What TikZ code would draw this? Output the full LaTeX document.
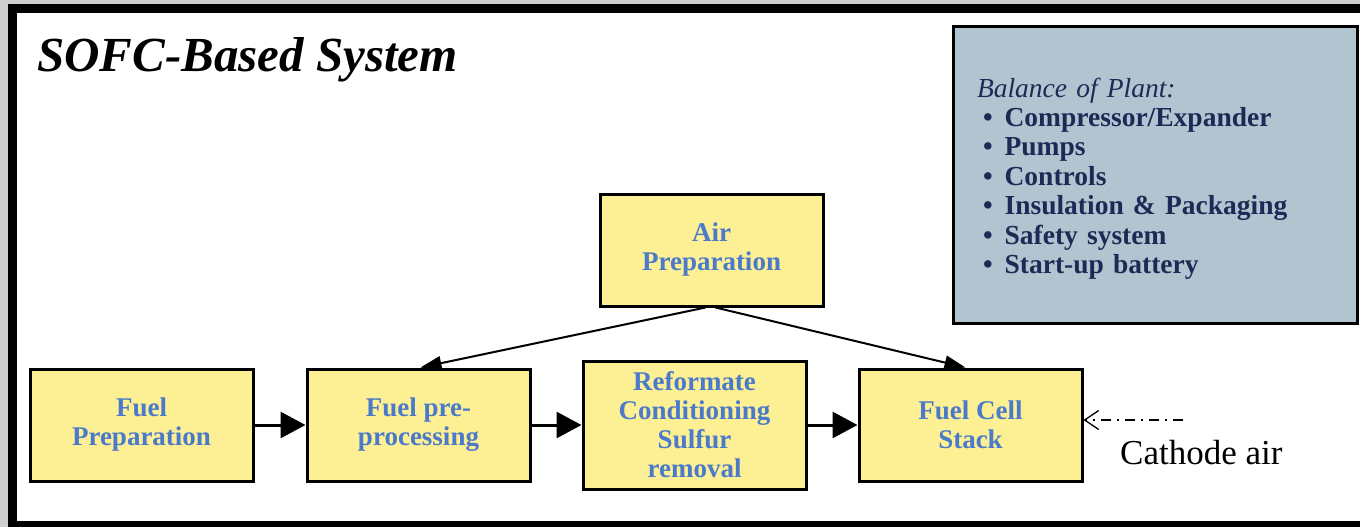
\documentclass[tikz,border=0pt]{standalone}
\usepackage{fontspec}
\setmainfont{Liberation Serif}
\usepackage{xcolor}
\usetikzlibrary{arrows.meta,positioning}
\definecolor{boxfill}{HTML}{FCEF94}
\definecolor{boxtext}{HTML}{4A7AC9}
\definecolor{bopfill}{HTML}{B3C4D1}
\definecolor{boptext}{HTML}{1C2B56}
\definecolor{screen}{HTML}{CFCFCF}

\begin{document}
\begin{tikzpicture}[x=1pt,y=-1pt,
    stagebox/.style={draw=black,line width=3pt,fill=boxfill,minimum width=223pt,
      minimum height=112pt,align=center,text=boxtext,
      font=\fontsize{27}{29}\selectfont\bfseries},
    flowarrow/.style={line width=3pt,-{Triangle[length=25pt,width=26pt]}},
    airarrow/.style={line width=2pt,-{Triangle[length=21pt,width=14pt]}}]
  \useasboundingbox (0,0) rectangle (1360,527);
  \fill[screen] (0,0) rectangle (1360,527);
  \draw[line width=9pt,fill=white] (12.5,8.5) rectangle (1380,525);

  % title
  \node[anchor=base west,inner sep=0pt,font=\fontsize{49}{51}\selectfont\bfseries\itshape]
    (title) at (37,72) {SOFC-Based System};

  % balance of plant
  \node[draw=black,line width=3pt,fill=bopfill,minimum width=404pt,minimum height=296pt]
    (bop) at (1155,175) {};
  \node[text width=356pt,inner sep=0pt,align=left,text=boptext,
    font=\fontsize{27.5}{29.5}\selectfont] (boplist) at ([yshift=-4pt]bop.center)
    {\textit{Balance of Plant:}\\[-1pt]
     \bfseries\hspace*{6pt}\textbullet\hspace{12pt}Compressor/Expander\\
     \hspace*{6pt}\textbullet\hspace{12pt}Pumps\\
     \hspace*{6pt}\textbullet\hspace{12pt}Controls\\
     \hspace*{6pt}\textbullet\hspace{12pt}Insulation \& Packaging\\
     \hspace*{6pt}\textbullet\hspace{12pt}Safety system\\
     \hspace*{6pt}\textbullet\hspace{12pt}Start-up battery};

  % process chain
  \node[stagebox] (fuelprep) at (141.5,425) {Fuel\\Preparation};
  \node[stagebox,right=51pt of fuelprep] (preproc) {Fuel pre-\\processing};
  \node[stagebox,right=50pt of preproc,minimum height=128pt] (reform)
    {Reformate\\Conditioning\\Sulfur\\removal};
  \node[stagebox,right=50pt of reform] (stack) {Fuel Cell\\Stack};
  \node[stagebox] (airprep) at (711.5,250) {Air\\Preparation};

  \draw[flowarrow] (fuelprep) -- (preproc);
  \draw[flowarrow] (preproc) -- (reform);
  \draw[flowarrow] (reform) -- (stack);
  \draw[airarrow] ([xshift=-6pt]airprep.south) -- ([xshift=2pt]preproc.north);
  \draw[airarrow] ([xshift=4pt]airprep.south) -- ([xshift=-5pt]stack.north);

  % cathode air
  \coordinate (cathode) at (1183,420);
  \draw[line width=1.3pt,dash pattern=on 10pt off 6pt on 2pt off 6pt,
    -{Straight Barb[length=14pt,width=19pt,line width=1.3pt]}]
    (cathode) -- (cathode -| stack.east);
  \node[anchor=base west,inner sep=0pt,font=\fontsize{35}{37}\selectfont]
    (cathodelabel) at (1120,464) {Cathode air};
\end{tikzpicture}
\end{document}
